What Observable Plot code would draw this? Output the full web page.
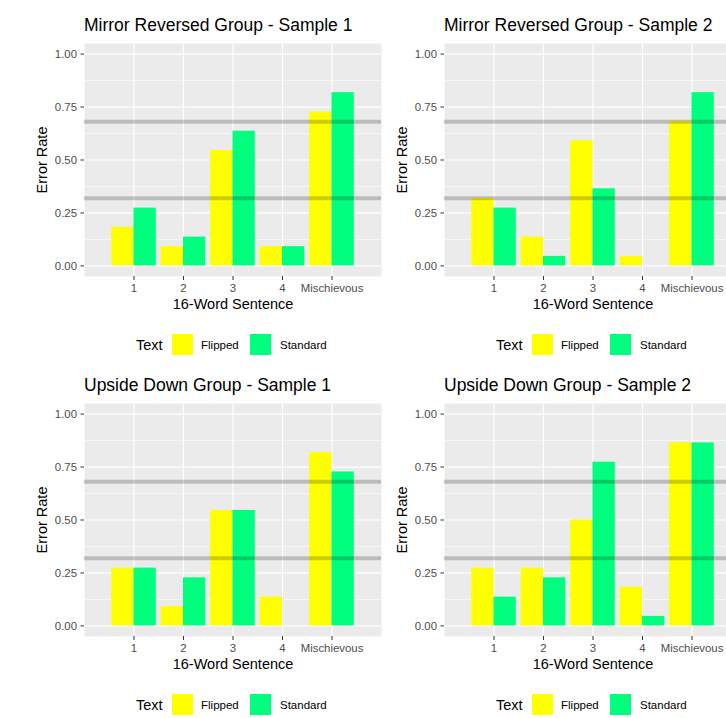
<!DOCTYPE html>
<html><head><meta charset="utf-8">
<script src="https://cdn.jsdelivr.net/npm/d3@7"></script>
<script src="https://cdn.jsdelivr.net/npm/@observablehq/plot@0.6"></script>
<style>
body{margin:0;background:#fff;overflow:hidden}
#root{position:relative;width:726px;height:718px;overflow:hidden;background:#fff;font-family:"Liberation Sans",Arial,sans-serif}
.ptitle{position:absolute;font-size:17.5px;line-height:17.5px;color:#000;white-space:nowrap}
.plot{position:absolute}
.lg-title{position:absolute;font-size:14.5px;line-height:14.5px;color:#000;white-space:nowrap}
.lg-key{position:absolute;width:20.5px;height:21px}
.lg-label{position:absolute;font-size:11.5px;line-height:11.5px;color:#000;white-space:nowrap}
</style></head><body><div id="root"></div><script>
// ---- data ----
const categories = ["1", "2", "3", "4", "Mischievous"];
const textGroups = ["Flipped", "Standard"];
const textColors = ["#ffff00", "#00ff7f"];
const panelTitles = [
  "Mirror Reversed Group - Sample 1",
  "Mirror Reversed Group - Sample 2",
  "Upside Down Group - Sample 1",
  "Upside Down Group - Sample 2"
];
const mr1Flipped  = [0.182, 0.091, 0.545, 0.091, 0.727];
const mr1Standard = [0.273, 0.136, 0.636, 0.091, 0.818];
const mr2Flipped  = [0.318, 0.136, 0.591, 0.045, 0.682];
const mr2Standard = [0.273, 0.045, 0.364, 0.000, 0.818];
const ud1Flipped  = [0.273, 0.091, 0.545, 0.136, 0.818];
const ud1Standard = [0.273, 0.227, 0.545, 0.000, 0.727];
const ud2Flipped  = [0.273, 0.273, 0.500, 0.182, 0.864];
const ud2Standard = [0.136, 0.227, 0.773, 0.045, 0.864];
const referenceLines = [0.32, 0.68];
const yMajorTicks = [0, 0.25, 0.5, 0.75, 1];
const yMinorTicks = [0.125, 0.375, 0.625, 0.875];
const xAxisTitle = "16-Word Sentence";
const yAxisTitle = "Error Rate";
const legendTitle = "Text";

// ---- layout ----
const panels = [
  {title: panelTitles[0], flipped: mr1Flipped, standard: mr1Standard, left: 0,   top: 0},
  {title: panelTitles[1], flipped: mr2Flipped, standard: mr2Standard, left: 360, top: 0},
  {title: panelTitles[2], flipped: ud1Flipped, standard: ud1Standard, left: 0,   top: 360},
  {title: panelTitles[3], flipped: ud2Flipped, standard: ud2Standard, left: 360, top: 360}
];
const root = document.getElementById("root");
const barWidth = 0.45;
const fontFamily = '"Liberation Sans", Arial, sans-serif';

function el(cls, left, top, text) {
  const d = document.createElement("div");
  d.className = cls;
  d.style.left = left + "px";
  d.style.top = top + "px";
  if (text != null) d.textContent = text;
  root.appendChild(d);
  return d;
}

for (const p of panels) {
  const rows = [];
  categories.forEach((c, i) => {
    rows.push({cat: c, pos: i + 1, text: textGroups[0], value: p.flipped[i]});
    rows.push({cat: c, pos: i + 1, text: textGroups[1], value: p.standard[i]});
  });

  el("ptitle", p.left + 84, p.top + 17.2, p.title);

  const chart = Plot.plot({
    width: 400, height: 290,
    marginLeft: 84, marginRight: 19, marginTop: 7, marginBottom: 50,
    style: {fontFamily, fontSize: "11.4px", background: "transparent", overflow: "visible"},
    x: {domain: [0, 6]},
    y: {domain: [-0.05, 1.05]},
    color: {domain: textGroups, range: textColors},
    marks: [
      Plot.frame({fill: "#ebebeb", stroke: "none"}),
      Plot.gridY({ticks: yMinorTicks, stroke: "#ffffff", strokeOpacity: 1, strokeWidth: 0.6}),
      Plot.gridY({ticks: yMajorTicks, stroke: "#ffffff", strokeOpacity: 1, strokeWidth: 1.2}),
      Plot.gridX({ticks: categories.map((c, i) => i + 1), stroke: "#ffffff", strokeOpacity: 1, strokeWidth: 1.2}),
      Plot.rect(rows, {
        x1: d => d.pos - barWidth + textGroups.indexOf(d.text) * barWidth,
        x2: d => d.pos + textGroups.indexOf(d.text) * barWidth,
        y1: d => 0,
        y2: "value",
        fill: "text"
      }),
      Plot.ruleY(referenceLines, {stroke: "#000000", strokeOpacity: 0.2, strokeWidth: 4}),
      Plot.axisY({ticks: yMajorTicks, tickFormat: d3.format(".2f"), tickSize: 3.5, tickPadding: 4,
        stroke: "#333333", fill: "#4d4d4d", fontSize: 11.4, label: null}),
      Plot.axisX({ticks: categories.map((c, i) => i + 1), tickFormat: d => categories[d - 1],
        tickSize: 4, tickPadding: 3, stroke: "#333333", fill: "#4d4d4d", fontSize: 11.4, label: null}),
      Plot.text([xAxisTitle], {text: d => d, frameAnchor: "bottom", dy: 28, lineAnchor: "middle",
        textAnchor: "middle", fontSize: 14.5, fill: "#000"}),
      Plot.text([yAxisTitle], {text: d => d, frameAnchor: "left", dx: -42, rotate: -90,
        lineAnchor: "middle", textAnchor: "middle", fontSize: 14.5, fill: "#000"})
    ]
  });
  chart.classList.add("plot");
  chart.style.left = p.left + "px";
  chart.style.top = (p.top + 36) + "px";
  chart.style.position = "absolute";
  root.appendChild(chart);

  // legend
  el("lg-title", p.left + 136, p.top + 337.7, legendTitle);
  const keyLefts = [172, 250];
  const labelLefts = [201, 280];
  textGroups.forEach((g, i) => {
    const k = el("lg-key", p.left + keyLefts[i], p.top + 334);
    k.style.background = textColors[i];
    el("lg-label", p.left + labelLefts[i], p.top + 339.8, g);
  });
}
</script></body></html>
